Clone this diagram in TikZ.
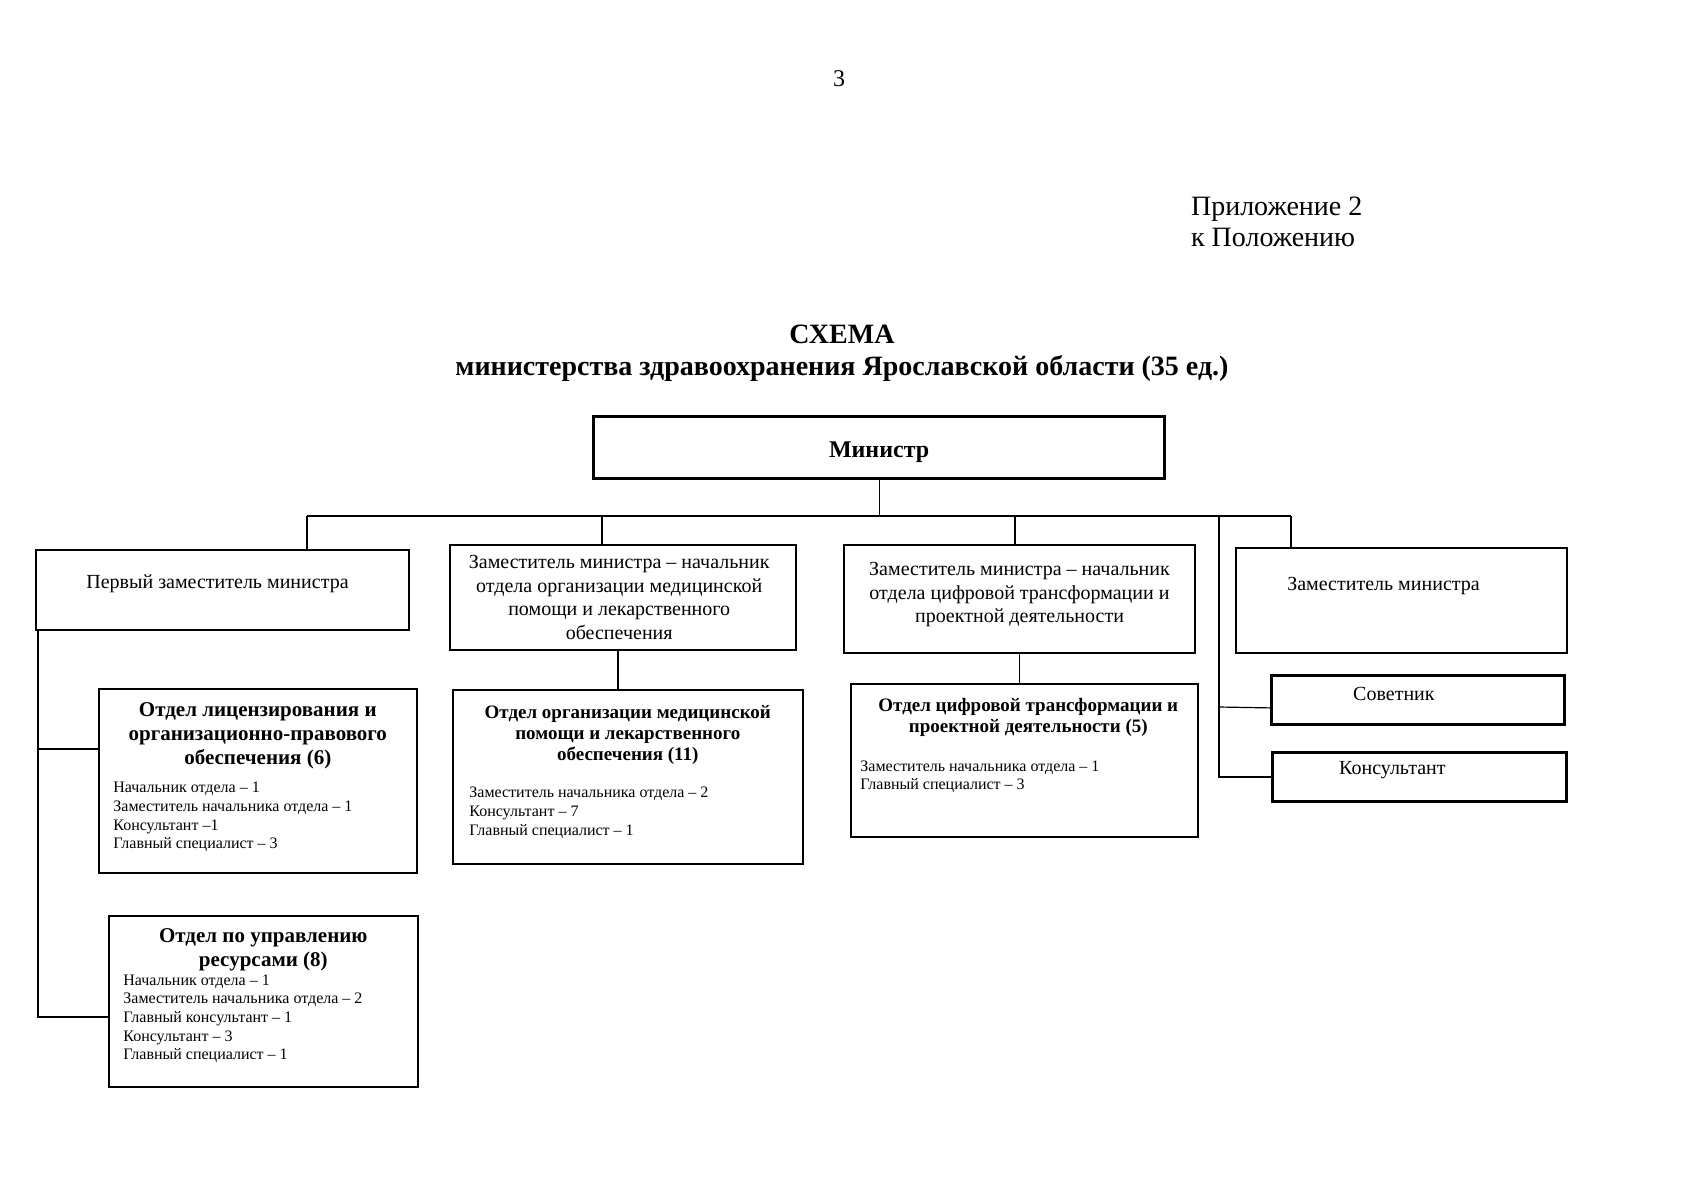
\documentclass[tikz,border=0pt]{standalone}
\usepackage{fontspec}
\setmainfont{Liberation Serif}
\usetikzlibrary{positioning}

\tikzset{
  frame/.style={draw, line width=1pt, anchor=north west, inner sep=0pt},
  thickframe/.style={frame, line width=1.6pt},
  link/.style={line width=0.6pt},
  post/.style={align=center, inner sep=0pt, font=\fontsize{10}{11.7}\selectfont},
  head/.style={align=center, inner sep=0pt, anchor=north, font=\fontsize{10.5}{12}\selectfont\bfseries},
  smallhead/.style={head, font=\fontsize{9.5}{10.3}\selectfont\bfseries},
  staff/.style={align=left, inner sep=0pt, anchor=north west, font=\fontsize{8}{9.3}\selectfont}
}

\begin{document}
\begin{tikzpicture}[x=0.5pt, y=-0.5pt]
  \useasboundingbox (0,0) rectangle (1697,1200);

  % page header
  \node[font=\fontsize{12}{14}\selectfont] (page) at (839,79) {3};
  \node[anchor=west, align=left, font=\fontsize{14}{15.5}\selectfont] (annex) at (1184,222) {Приложение 2\\к Положению};
  \node[align=center, font=\fontsize{14}{16.2}\selectfont\bfseries] (title) at (842,353) {СХЕМА\\министерства здравоохранения Ярославской области (35 ед.)};

  % minister
  \node[thickframe, minimum width=285.5pt, minimum height=31pt] (min) at (592,415) {};
  \node[font=\fontsize{12}{14}\selectfont\bfseries, yshift=-2.5pt] (minname) at (min.center) {Министр};

  % deputies
  \node[frame, minimum width=186.5pt, minimum height=40pt] (first) at (35,549) {};
  \node[post, anchor=north, below=12.6pt of first.north, xshift=-2.5pt] (firstname) {Первый заместитель министра};

  \node[frame, minimum width=173pt, minimum height=52.5pt] (second) at (449,544) {};
  \node[post, xshift=-1.9pt] (secondname) at (second.center) {Заместитель министра – начальник\\отдела организации медицинской\\помощи и лекарственного\\обеспечения};

  \node[frame, minimum width=175.5pt, minimum height=54pt] (third) at (843,544) {};
  \node[post, yshift=2.2pt] (thirdname) at (third.center) {Заместитель министра – начальник\\отдела цифровой трансформации и\\проектной деятельности};

  \node[frame, minimum width=165.5pt, minimum height=52.5pt] (fourth) at (1235,547) {};
  \node[post, anchor=north, below=15pt of fourth.north, xshift=-9pt] (fourthname) {Заместитель министра};

  % departments
  \node[frame, line width=0.8pt, minimum width=159pt, minimum height=92pt] (lic) at (98,688) {};
  \node[head, below=7.2pt of lic.north] (lichead) {Отдел лицензирования и\\организационно-правового\\обеспечения (6)};
  \node[staff, below right=47pt and 7.5pt of lic.north west] (licstaff) {Начальник отдела – 1\\Заместитель начальника отдела – 1\\Консультант –1\\Главный специалист – 3};

  \node[frame, line width=0.8pt, minimum width=154.5pt, minimum height=85.5pt] (res) at (108,915) {};
  \node[head, below=6.7pt of res.north] (reshead) {Отдел по управлению\\ресурсами (8)};
  \node[staff, below right=29.7pt and 7.5pt of res.north west] (resstaff) {Начальник отдела – 1\\Заместитель начальника отдела – 2\\Главный консультант – 1\\Консультант – 3\\Главный специалист – 1};

  \node[frame, line width=0.8pt, minimum width=175pt, minimum height=87pt] (med) at (452,689) {};
  \node[smallhead, below=8.2pt of med.north] (medhead) {Отдел организации медицинской\\помощи и лекарственного\\обеспечения (11)};
  \node[staff, below right=48.9pt and 8.5pt of med.north west] (medstaff) {Заместитель начальника отдела – 2\\Консультант – 7\\Главный специалист – 1};

  \node[frame, line width=0.8pt, minimum width=173.5pt, minimum height=76.5pt] (digit) at (850,683) {};
  \node[smallhead, below=7.6pt of digit.north, xshift=2pt] (digithead) {Отдел цифровой трансформации и\\проектной деятельности (5)};
  \node[staff, below right=38.6pt and 5pt of digit.north west] (digitstaff) {Заместитель начальника отдела – 1\\Главный специалист – 3};

  % advisers
  \node[thickframe, line width=1.4pt, minimum width=146.5pt, minimum height=24.5pt] (sov) at (1270,674) {};
  \node[post, xshift=-12pt, yshift=3pt] (sovname) at (sov.center) {Советник};
  \node[thickframe, line width=1.4pt, minimum width=147pt, minimum height=24.5pt] (kons) at (1271,751) {};
  \node[post, xshift=-13.5pt, yshift=3.5pt] (konsname) at (kons.center) {Консультант};

  % connectors
  \coordinate (tapA) at (307,516);
  \coordinate (tapB) at (602,516);
  \coordinate (tapC) at (1015,516);
  \coordinate (tapD) at (1219,516);
  \coordinate (tapE) at (1291,516);
  \coordinate (licjoin) at (38,749);
  \coordinate (spine) at (38,1017);

  \draw[link] (min.south) -- (min.south |- tapA);
  \draw[link] (tapA) -- (tapE);
  \draw[link] (tapA) -- (tapA |- first.north);
  \draw[link] (tapB) -- (tapB |- second.north);
  \draw[link] (tapC) -- (tapC |- third.north);
  \draw[link] (tapE) -- (tapE |- fourth.north);
  \draw[link] (tapD) -- (tapD |- kons.west) -- (kons.west);
  \draw[link] (tapD |- 0,707) -- ([yshift=-4pt]sov.west);

  \draw[link] (first.south -| spine) -- (spine) -- (spine -| res.west);
  \draw[link] (licjoin) -- (licjoin -| lic.west);
  \draw[link] ([xshift=-2.5pt]second.south) -- ([xshift=-2.5pt]second.south |- med.north);
  \draw[link] (third.south) -- (third.south |- digit.north);
\end{tikzpicture}
\end{document}
